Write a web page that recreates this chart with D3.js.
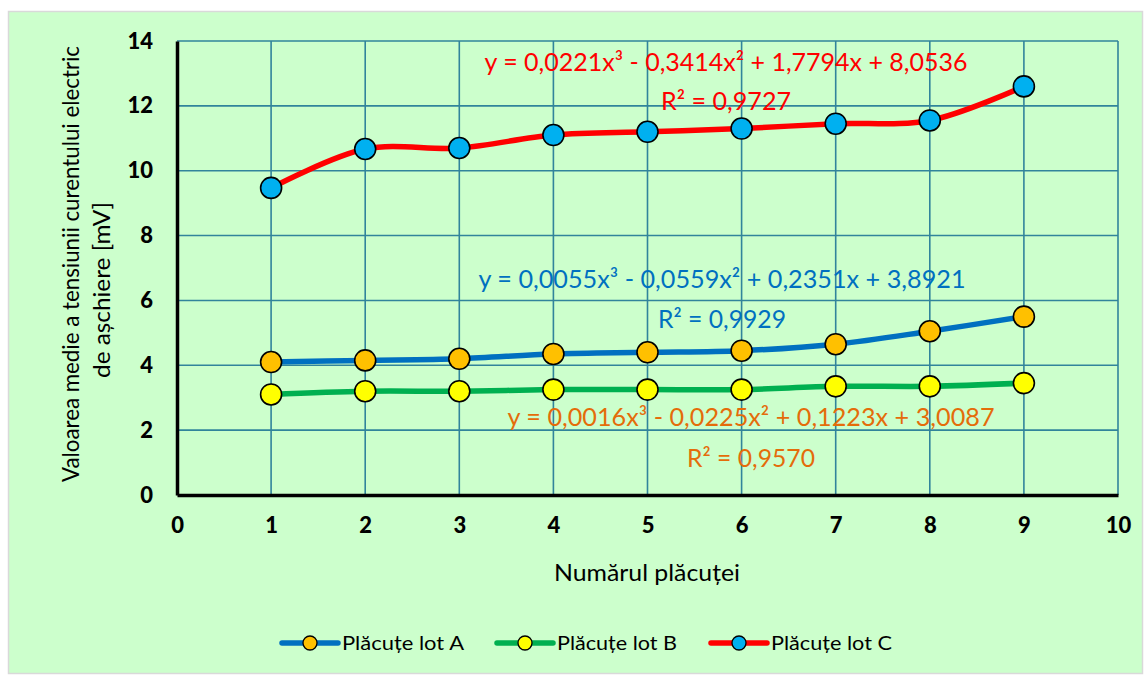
<!DOCTYPE html>
<html>
<head>
<meta charset="utf-8">
<script src="https://cdn.jsdelivr.net/npm/d3@7"></script>
<style>
  html, body { margin: 0; padding: 0; background: #ffffff; }
  svg { display: block; font-family: Lato, "Open Sans", sans-serif; }
</style>
</head>
<body>
<svg id="chart" width="1145" height="676"></svg>
<script>
// Plate number (x) and mean cutting-current voltage [mV] for each batch
const plates = [1, 2, 3, 4, 5, 6, 7, 8, 9];
const lotA = [4.10, 4.15, 4.20, 4.35, 4.40, 4.45, 4.65, 5.05, 5.50];
const lotB = [3.10, 3.20, 3.20, 3.25, 3.25, 3.25, 3.35, 3.35, 3.45];
const lotC = [9.47, 10.67, 10.70, 11.10, 11.20, 11.30, 11.45, 11.55, 12.60];

const seriesNames = ["Plăcuțe lot A", "Plăcuțe lot B", "Plăcuțe lot C"];
const xTicks = [0, 1, 2, 3, 4, 5, 6, 7, 8, 9, 10];
const yTicks = [0, 2, 4, 6, 8, 10, 12, 14];

// Trendline equations shown on the chart
const trendEquations = [
  "y = 0,0055x³ - 0,0559x² + 0,2351x + 3,8921",
  "y = 0,0016x³ - 0,0225x² + 0,1223x + 3,0087",
  "y = 0,0221x³ - 0,3414x² + 1,7794x + 8,0536"
];
const trendR2 = ["R² = 0,9929", "R² = 0,9570", "R² = 0,9727"];

const styles = [
  { line: "#0070C0", marker: "#FFC000", label: "#0070C0" },
  { line: "#00B050", marker: "#FFFF00", label: "#E46C0A" },
  { line: "#FF0000", marker: "#00B0F0", label: "#FF0000" }
];

const svg = d3.select("#chart");

// chart area background
svg.append("rect")
  .attr("x", 8.5).attr("y", 11.5).attr("width", 1134).attr("height", 662)
  .attr("fill", "#CCFFCC").attr("stroke", "#D9D9D9").attr("stroke-width", 1.5);

const plot = { left: 177, right: 1118, top: 41, bottom: 495 };

const x = d3.scaleLinear().domain([0, 10]).range([plot.left, plot.right]);
const y = d3.scaleLinear().domain([0, 14]).range([plot.bottom, plot.top]);

// grid lines
const grid = svg.append("g").attr("stroke", "#31849B").attr("stroke-width", 1.6);
grid.selectAll("line.h").data(yTicks.filter(d => d > 0)).join("line")
  .attr("x1", plot.left).attr("x2", plot.right)
  .attr("y1", d => y(d)).attr("y2", d => y(d));
grid.selectAll("line.v").data(xTicks.filter(d => d > 0)).join("line")
  .attr("y1", plot.top).attr("y2", plot.bottom)
  .attr("x1", d => x(d)).attr("x2", d => x(d));

// axes
const yAxis = svg.append("g").attr("transform", `translate(${plot.left},0)`)
  .call(d3.axisLeft(y).tickValues(yTicks).tickSize(0).tickPadding(24).tickFormat(d3.format("d")));
const xAxis = svg.append("g").attr("transform", `translate(0,${plot.bottom})`)
  .call(d3.axisBottom(x).tickValues(xTicks).tickSize(0).tickPadding(22).tickFormat(d3.format("d")));
[xAxis, yAxis].forEach(a => {
  a.select(".domain").attr("stroke", "#000").attr("stroke-width", 3.5);
  a.selectAll("text").attr("font-family", "Lato, sans-serif")
    .attr("font-weight", 900).attr("font-size", 22).attr("fill", "#000");
});

// series lines and markers
const series = [lotA, lotB, lotC];
const line = d3.line()
  .x((d, i) => x(plates[i]))
  .y(d => y(d))
  .curve(d3.curveCatmullRom.alpha(0.5));

series.forEach((vals, k) => {
  svg.append("path").datum(vals)
    .attr("d", line)
    .attr("fill", "none")
    .attr("stroke", styles[k].line)
    .attr("stroke-width", 5.5)
    .attr("stroke-linecap", "round");
});
series.forEach((vals, k) => {
  svg.append("g").selectAll("circle").data(vals).join("circle")
    .attr("cx", (d, i) => x(plates[i]))
    .attr("cy", d => y(d))
    .attr("r", 10.5)
    .attr("fill", styles[k].marker)
    .attr("stroke", "#000").attr("stroke-width", 1.6);
});

// trendline labels
const labelPos = [
  { cx: 722, eqY: 288, r2Y: 328, eqW: 487, r2W: 128 },
  { cx: 751, eqY: 426, r2Y: 467, eqW: 487, r2W: 128 },
  { cx: 726, eqY: 71, r2Y: 110, eqW: 483, r2W: 130 }
];
labelPos.forEach((p, k) => {
  const g = svg.append("g").attr("fill", styles[k].label)
    .attr("font-family", "Lato, sans-serif").attr("font-size", 25).attr("text-anchor", "middle");
  g.append("text").attr("x", p.cx).attr("y", p.eqY)
    .attr("textLength", p.eqW).attr("lengthAdjust", "spacingAndGlyphs")
    .text(trendEquations[k]);
  g.append("text").attr("x", p.cx).attr("y", p.r2Y)
    .attr("textLength", p.r2W).attr("lengthAdjust", "spacingAndGlyphs")
    .text(trendR2[k]);
});

// axis titles
svg.append("text")
  .attr("x", 647).attr("y", 581).attr("text-anchor", "middle")
  .attr("font-size", 24).attr("fill", "#000")
  .attr("textLength", 186).attr("lengthAdjust", "spacingAndGlyphs")
  .text("Numărul plăcuței");

const yTitle = svg.append("g").attr("transform", "rotate(-90)")
  .attr("font-size", 23).attr("fill", "#000").attr("text-anchor", "middle");
yTitle.append("text").attr("x", -264).attr("y", 79)
  .attr("textLength", 436).attr("lengthAdjust", "spacingAndGlyphs")
  .text("Valoarea medie a tensiunii curentului electric");
yTitle.append("text").attr("x", -290).attr("y", 110)
  .attr("textLength", 176).attr("lengthAdjust", "spacingAndGlyphs")
  .text("de așchiere [mV]");

// legend
const legendX = [282, 497, 711];
const legendTextW = [122, 120, 121];
const legend = svg.append("g").attr("transform", "translate(0,643)");
seriesNames.forEach((name, k) => {
  const gx = legendX[k];
  legend.append("line")
    .attr("x1", gx).attr("x2", gx + 56).attr("y1", 0).attr("y2", 0)
    .attr("stroke", styles[k].line).attr("stroke-width", 5.5).attr("stroke-linecap", "round");
  legend.append("circle").attr("cx", gx + 28).attr("cy", 0).attr("r", 7)
    .attr("fill", styles[k].marker).attr("stroke", "#000").attr("stroke-width", 1.3);
  legend.append("text").attr("x", gx + 60).attr("y", 7)
    .attr("font-size", 20).attr("fill", "#000")
    .attr("textLength", legendTextW[k]).attr("lengthAdjust", "spacingAndGlyphs")
    .text(name);
});
</script>
</body>
</html>
